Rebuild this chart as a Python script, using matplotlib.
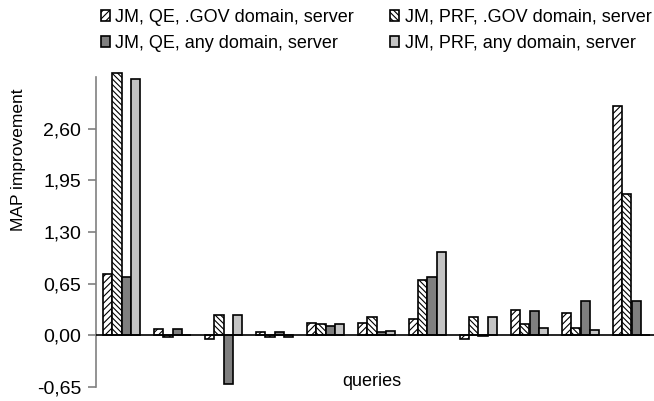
import matplotlib.pyplot as plt
import numpy as np

plt.rcParams['font.family'] = ['Liberation Sans', 'DejaVu Sans']

# values per query (11 queries)
qe_gov = [0.77, 0.085, -0.04, 0.045, 0.155, 0.155, 0.21, -0.04, 0.32, 0.285, 2.88]
prf_gov = [3.30, -0.025, 0.26, -0.02, 0.145, 0.23, 0.70, 0.23, 0.145, 0.09, 1.78]
qe_any = [0.73, 0.085, -0.61, 0.045, 0.12, 0.045, 0.73, -0.01, 0.30, 0.43, 0.43]
prf_any = [3.22, 0.0, 0.26, -0.02, 0.14, 0.06, 1.05, 0.23, 0.09, 0.07, 0.01]

labels = ['JM, QE, .GOV domain, server', 'JM, PRF, .GOV domain, server',
          'JM, QE, any domain, server', 'JM, PRF, any domain, server']
yticks = [-0.65, 0.0, 0.65, 1.30, 1.95, 2.60]

plt.rcParams['hatch.linewidth'] = 0.8

fig = plt.figure(figsize=(6.54, 4.01), dpi=100)
ax = fig.add_axes([96 / 654, 14 / 401, 561 / 654, 310 / 401])

x = np.arange(len(qe_gov))
w = 0.186
styles = [
    dict(color='white', hatch='/////'),
    dict(color='white', hatch='\\\\\\\\\\\\'),
    dict(color='#7f7f7f', hatch=None),
    dict(color='#c4c4c4', hatch=None),
]
series = [qe_gov, prf_gov, qe_any, prf_any]
handles = []
for i, (vals, st) in enumerate(zip(series, styles)):
    b = ax.bar(x + (i - 1.5) * w, vals, w, color=st['color'], hatch=st['hatch'],
               edgecolor='black', linewidth=1.2, label=labels[i], clip_on=False,
               zorder=2)
    handles.append(b)

ax.set_xlim(-0.5, len(qe_gov) - 0.5)
ax.set_ylim(-0.65, 3.25)
ax.set_yticks(yticks)
ax.set_yticklabels([f'{v:.2f}'.replace('.', ',') for v in yticks], fontsize=14)
ax.set_xticks([])

for s in ['top', 'right', 'bottom']:
    ax.spines[s].set_visible(False)
ax.spines['left'].set_color('#808080')
ax.spines['left'].set_linewidth(1.2)
ax.tick_params(axis='y', direction='out', length=5.8, width=1.2, color='#808080', pad=5)
ax.axhline(0, color='black', linewidth=1.2, zorder=3)

fig.text(19 / 654, 1 - 160 / 401, 'MAP improvement', fontsize=12.5, rotation=90,
         ha='center', va='center')
fig.text(372 / 654, 1 - 382 / 401, 'queries', fontsize=13, ha='center', va='center')

# row-wise legend order: (QE gov, PRF gov) / (QE any, PRF any)
order = [0, 2, 1, 3]
fig.legend([handles[i] for i in order], [labels[i] for i in order], ncol=2,
           loc='upper left', bbox_to_anchor=(101 / 654, 1 - 9 / 401), frameon=False,
           fontsize=13, borderpad=0, borderaxespad=0,
           handlelength=0.5, handleheight=0.5, handletextpad=0.3,
           columnspacing=2.0, labelspacing=0.5)

fig.savefig('out.png', dpi=100)
